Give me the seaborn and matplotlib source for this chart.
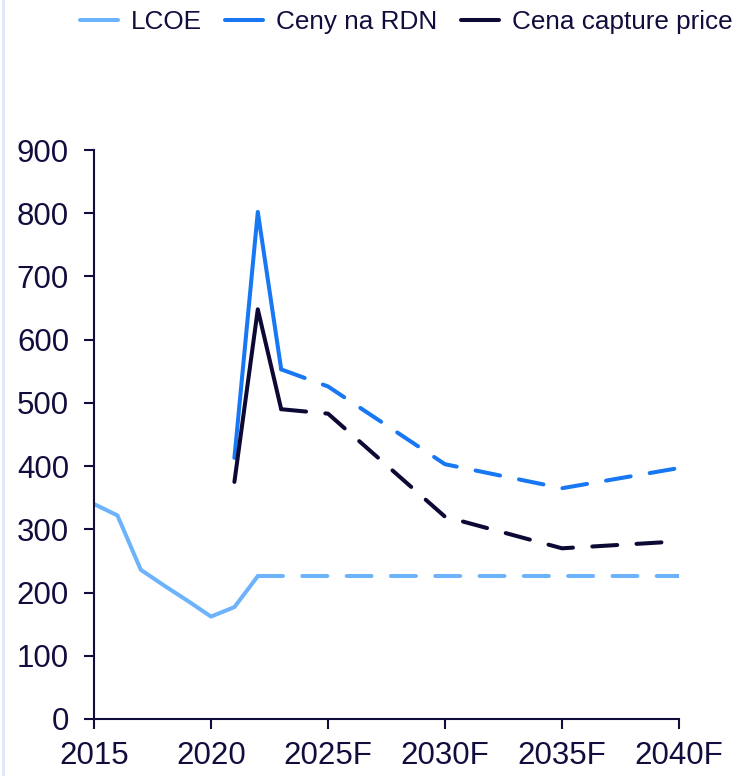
import matplotlib
matplotlib.use("Agg")
import matplotlib.pyplot as plt
from matplotlib.lines import Line2D
import numpy as np
import pandas as pd
import seaborn as sns

# Historical and forecast values (PLN/MWh)
lcoe_years_hist = [2015, 2016, 2017, 2018, 2019, 2020, 2021, 2022]
lcoe_hist = [340, 322, 236, 211, 187, 162, 177, 226]
lcoe_years_fc = [2022, 2025, 2030, 2035, 2040]
lcoe_fc = [226, 226, 226, 226, 226]

rdn_years_hist = [2021, 2022, 2023]
rdn_hist = [413, 802, 553]
rdn_years_fc = [2023, 2025, 2030, 2035, 2040]
rdn_fc = [553, 526, 403, 365, 397]

capture_years_hist = [2021, 2022, 2023]
capture_hist = [375, 648, 490]
capture_years_fc = [2023, 2025, 2030, 2035, 2040]
capture_fc = [490, 483, 320, 270, 281]

series_names = ["LCOE", "Ceny na RDN", "Cena capture price"]
colors = ["#6db3fb", "#1877f2", "#0c0935"]
x_ticks = [2015, 2020, 2025, 2030, 2035, 2040]
x_tick_labels = ["2015", "2020", "2025F", "2030F", "2035F", "2040F"]
y_ticks = list(range(0, 901, 100))

text_color = "#110d3d"

frames = []
for name, yh, vh, yf, vf in [
    ("LCOE", lcoe_years_hist, lcoe_hist, lcoe_years_fc, lcoe_fc),
    ("Ceny na RDN", rdn_years_hist, rdn_hist, rdn_years_fc, rdn_fc),
    ("Cena capture price", capture_years_hist, capture_hist, capture_years_fc, capture_fc),
]:
    frames.append(pd.DataFrame({"year": yh, "value": vh, "series": name, "part": "hist"}))
    frames.append(pd.DataFrame({"year": yf, "value": vf, "series": name, "part": "forecast"}))
df = pd.concat(frames, ignore_index=True)

sns.set_theme(style="white")
plt.rcParams["font.family"] = ["Liberation Sans", "DejaVu Sans"]

fig = plt.figure(figsize=(7.36, 7.76), dpi=100)
ax = fig.add_axes([94 / 736, 57 / 776, 585 / 736, 569 / 776])

palette = dict(zip(series_names, colors))
sns.lineplot(
    data=df, x="year", y="value", hue="series", style="part",
    hue_order=series_names, style_order=["hist", "forecast"],
    palette=palette, dashes={"hist": "", "forecast": (6.2, 4.8)},
    linewidth=2.9, sort=False, estimator=None, legend=False, ax=ax,
    dash_capstyle="round", solid_capstyle="round",
)

ax.set_xlim(2015, 2040)
ax.set_ylim(0, 900)
ax.set_xticks(x_ticks)
ax.set_xticklabels(x_tick_labels)
ax.set_yticks(y_ticks)
ax.set_xlabel("")
ax.set_ylabel("")

for side in ["top", "right"]:
    ax.spines[side].set_visible(False)
for side in ["left", "bottom"]:
    ax.spines[side].set_color(text_color)
    ax.spines[side].set_linewidth(1.5)

ax.tick_params(axis="both", direction="out", length=7, width=1.5,
               color=text_color, labelcolor=text_color, bottom=True, left=True)
ax.tick_params(axis="y", labelsize=22.5, pad=11)
ax.tick_params(axis="x", labelsize=22.5, pad=9)

handles = [Line2D([0], [0], color=c, lw=2.9, solid_capstyle="round") for c in colors]
leg = fig.legend(handles, series_names, loc="center", bbox_to_anchor=(406 / 736, 1 - 22 / 776),
                 ncol=3, frameon=False, fontsize=18.8, handlelength=1.45, handletextpad=0.5,
                 columnspacing=0.9, borderpad=0)
for t in leg.get_texts():
    t.set_color(text_color)

# thin frame line on the left edge
fig.add_artist(Line2D([2.5 / 736, 2.5 / 736], [0, 1], transform=fig.transFigure,
                      color="#dce9f9", lw=2))

fig.savefig("out.png", dpi=100)
